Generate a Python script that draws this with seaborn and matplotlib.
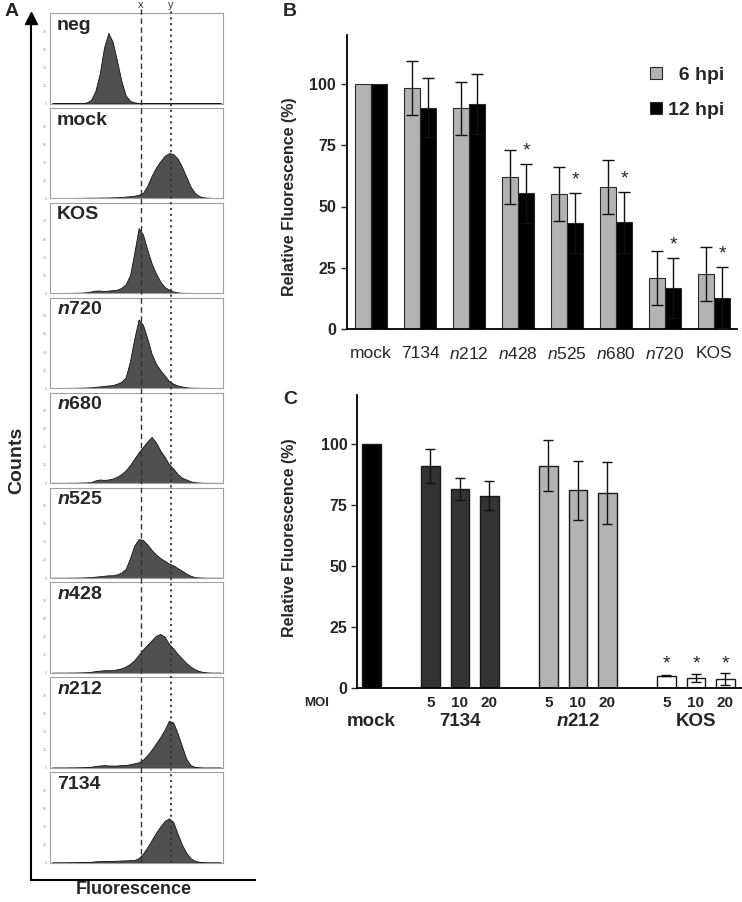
import numpy as np
import pandas as pd
import seaborn as sns
import matplotlib.pyplot as plt

# ---- data -------------------------------------------------------------
# panel A: flow histograms, counts per 0.1-decade bin (log10 fluorescence 0..4)
hist_labels = ["neg", "mock", "KOS", "n720", "n680", "n525", "n428", "n212", "7134"]
hist_neg = [0.3, 0.3, 0.3, 0.3, 0.3, 0.3, 0.4, 0.5, 1.2, 4,
            14, 33, 62, 78, 68, 47, 25, 9, 3, 1.2,
            0.6, 0.5, 0.5, 0.5, 0.5, 0.4, 0.4, 0.4, 0.4, 0.3,
            0.3, 0.3, 0.3, 0.3, 0.3, 0.3, 0.3, 0.3, 0.3, 0.3]
hist_mock = [0.5, 0.5, 0.5, 0.5, 0.5, 0.5, 0.6, 0.6, 0.7, 0.8,
             0.8, 0.9, 1, 1, 1.2, 1.3, 1.6, 2, 2.5, 3,
             4, 6, 14, 25, 34, 41, 47, 50, 49, 44,
             35, 24, 13, 6, 2.5, 1.2, 0.8, 0.5, 0.4, 0.3]
hist_kos = [0.4, 0.4, 0.4, 0.4, 0.5, 0.5, 0.6, 0.8, 1.2, 2,
            3, 3, 2.5, 3, 3.5, 4, 6, 10, 20, 45,
            72, 65, 48, 33, 22, 13, 7, 4, 2, 1,
            0.6, 0.5, 0.4, 0.4, 0.3, 0.3, 0.3, 0.3, 0.3, 0.3]
hist_n720 = [0.3, 0.3, 0.3, 0.3, 0.4, 0.4, 0.5, 0.6, 0.8, 1,
             1.5, 2, 2.5, 3, 3.5, 5, 7, 12, 30, 55,
             76, 70, 55, 38, 27, 20, 14, 8, 5, 3,
             2, 1, 0.6, 0.5, 0.4, 0.3, 0.3, 0.3, 0.3, 0.3]
hist_n680 = [0.3, 0.3, 0.3, 0.3, 0.4, 0.4, 0.5, 0.6, 0.8, 1,
             3, 4, 3.5, 4, 5, 7, 10, 14, 20, 27,
             34, 40, 46, 51, 45, 36, 29, 21, 16, 10,
             6, 4, 2, 1, 0.6, 0.4, 0.3, 0.3, 0.3, 0.3]
hist_n525 = [0.3, 0.3, 0.3, 0.3, 0.4, 0.4, 0.5, 0.6, 0.8, 1,
             1.5, 2, 2.5, 3, 3, 4, 6, 10, 22, 36,
             43, 42, 37, 31, 26, 22, 19, 16, 14, 11,
             8, 5, 2.5, 1, 0.6, 0.4, 0.3, 0.3, 0.3, 0.3]
hist_n428 = [0.3, 0.3, 0.3, 0.3, 0.4, 0.4, 0.5, 0.6, 0.8, 1.2,
             2, 2.5, 3, 3, 3, 4, 5, 7, 10, 14,
             20, 26, 31, 36, 41, 43, 40, 32, 27, 21,
             16, 11, 7, 4, 2, 1, 0.5, 0.3, 0.3, 0.3]
hist_n212 = [0.3, 0.3, 0.3, 0.3, 0.4, 0.4, 0.5, 0.6, 0.8, 1.2,
             2, 2.5, 3, 2.5, 2.5, 2.5, 3, 3, 4, 5,
             6, 9, 14, 20, 27, 34, 42, 52, 50, 38,
             24, 10, 3, 1, 0.5, 0.3, 0.3, 0.3, 0.3, 0.3]
hist_7134 = [0.3, 0.3, 0.3, 0.3, 0.4, 0.4, 0.5, 0.6, 0.8, 1,
             1.5, 1.8, 2, 2, 2, 2.2, 2.4, 2.6, 2.8, 3,
             5, 10, 17, 25, 33, 40, 46, 49, 45, 32,
             20, 11, 5, 2, 1, 0.5, 0.3, 0.3, 0.3, 0.3]
hist_counts = [hist_neg, hist_mock, hist_kos, hist_n720, hist_n680,
               hist_n525, hist_n428, hist_n212, hist_7134]
gate_x = 2.1   # dashed marker (log10)
gate_y = 2.8   # dotted marker (log10)

# panel B
strains_b = ["mock", "7134", "n212", "n428", "n525", "n680", "n720", "KOS"]
hue_labels = ["6 hpi", "12 hpi"]
fluor_6h = [100, 98.5, 90, 62, 55, 57.8, 21, 22.4]
err_6h = [0, 11, 11, 11, 11, 11, 11, 11]
fluor_12h = [100, 90.3, 91.8, 55.4, 43.4, 43.5, 16.6, 12.8]
err_12h = [0, 12, 12.3, 12, 12.2, 12.3, 12.2, 12.4]
sig_12h = [False, False, False, True, True, True, True, True]

# panel C
groups_c = ["mock", "7134", "n212", "KOS"]
c_group = ["mock", "7134", "7134", "7134", "n212", "n212", "n212", "KOS", "KOS", "KOS"]
c_moi = ["", "5", "10", "20", "5", "10", "20", "5", "10", "20"]
c_value = [100, 91, 81.4, 78.7, 91.1, 80.9, 80, 5.1, 4.2, 3.7]
c_err = [0, 7, 4.5, 6, 10.5, 12, 12.7, 0.3, 1.6, 2.6]
c_sig = [False] * 7 + [True] * 3

# ---- style --------------------------------------------------------------
sns.set_style("white")
plt.rcParams["font.family"] = ["Liberation Sans", "DejaVu Sans"]
plt.rcParams["mathtext.fontset"] = "custom"
plt.rcParams["mathtext.rm"] = "Liberation Sans"
plt.rcParams["mathtext.it"] = "Liberation Sans:italic"
plt.rcParams["mathtext.bf"] = "Liberation Sans:bold"
plt.rcParams["mathtext.bfit"] = "Liberation Sans:italic:bold"

W, H = 742, 902
fig = plt.figure(figsize=(W / 100, H / 100), dpi=100)


def px_box(x0, y0, x1, y1):
    return [x0 / W, 1 - y1 / H, (x1 - x0) / W, (y1 - y0) / H]


def fmt(name, bold=False):
    if name.startswith("n") and name[1:].isdigit():
        return (r"$\mathbfit{n}$" if bold else r"$\mathit{n}$") + name[1:]
    return name


# ---- panel A --------------------------------------------------------------
ax_frame = fig.add_axes(px_box(31, 18, 255, 880))
ax_frame.set(xticks=[], yticks=[], xlim=(0, 1), ylim=(0, 1))
ax_frame.patch.set_alpha(0)
for side in ["top", "right"]:
    ax_frame.spines[side].set_visible(False)
for side in ["left", "bottom"]:
    ax_frame.spines[side].set_linewidth(1.5)
    ax_frame.spines[side].set_color("black")
ax_frame.plot(0, 1, marker="^", ms=8, color="black", transform=ax_frame.transAxes,
              clip_on=False)
ax_frame.set_ylabel("Counts", fontsize=14, fontweight="bold")
ax_frame.yaxis.set_label_coords((25 - 31) / 224, (880 - 460) / 862)
ax_frame.set_xlabel("Fluorescence", fontsize=13, fontweight="bold")
ax_frame.xaxis.set_label_coords((134 - 31) / 224, (880 - 881) / 862)

centers = np.arange(40) * 0.1 + 0.05
for i, (name, counts) in enumerate(zip(hist_labels, hist_counts)):
    top = 13 + 94.9 * i
    ax = fig.add_axes(px_box(50, top, 223, top + 90.5))
    df_h = pd.DataFrame({"log_fl": centers, "count": counts})
    sns.histplot(data=df_h, x="log_fl", weights="count", bins=40, binrange=(0, 4),
                 element="poly", color="#505050", edgecolor="#111111", linewidth=0.6,
                 alpha=1, ax=ax)
    ax.set(xlim=(0, 4), ylim=(0, 100), xlabel="", ylabel="")
    ax.set_xticks(range(5), [""] * 5)
    ax.set_yticks([0, 20, 40, 60, 80], ["0", "20", "40", "60", "80"])
    ax.tick_params(length=1.5, width=0.4, color="#999999", labelsize=2.5,
                   labelcolor="#999999", pad=0.5)
    for sp in ax.spines.values():
        sp.set_color("#a0a0a0")
        sp.set_linewidth(0.8)
    ax.text(0.04, 0.96, fmt(name, bold=True), transform=ax.transAxes, va="top",
            ha="left", fontsize=14, fontweight="bold")

ax_lines = fig.add_axes(px_box(50, 9, 223, 863))
ax_lines.set(xlim=(0, 4), ylim=(0, 1))
ax_lines.axis("off")
ax_lines.axvline(gate_x, ls=(0, (4, 2.5)), color="#333333", lw=1)
ax_lines.axvline(gate_y, ls=(0, (1.2, 2)), color="#333333", lw=1.3)
for gx, lab in [(gate_x, "x"), (gate_y, "y")]:
    ax_lines.annotate(lab, xy=(gx, 1), xycoords=("data", "axes fraction"),
                      xytext=(0, 3), textcoords="offset points", ha="center",
                      va="center", fontsize=8, color="#333333")

fig.text(12 / W, 1 - 12 / H, "A", fontsize=14, fontweight="bold", ha="center", va="center")

# ---- panel B --------------------------------------------------------------
axB = fig.add_axes(px_box(347, 35, 737, 329))
df_b = pd.DataFrame({
    "strain": strains_b * 2,
    "time": [hue_labels[0]] * len(strains_b) + [hue_labels[1]] * len(strains_b),
    "value": fluor_6h + fluor_12h,
})
sns.barplot(data=df_b, x="strain", y="value", hue="time", palette=["#b3b3b3", "#000000"],
            width=0.66, edgecolor="#2a2a2a", linewidth=0.8, errorbar=None, ax=axB)
for cont, errs in zip(axB.containers, [err_6h, err_12h]):
    for bar, e in zip(cont, errs):
        if e > 0:
            axB.errorbar(bar.get_x() + bar.get_width() / 2, bar.get_height(), yerr=e,
                         fmt="none", ecolor="#111111", elinewidth=1, capsize=4.5,
                         capthick=1, zorder=3)
for bar, v, e, s in zip(axB.containers[1], fluor_12h, err_12h, sig_12h):
    if s:
        axB.text(bar.get_x() + bar.get_width() / 2, v + e + 3.5, "*", ha="center",
                 va="baseline", fontsize=14)

handles, _ = axB.get_legend_handles_labels()
axB.legend(handles, ["  " + hue_labels[0], hue_labels[1]], frameon=False,
           loc="upper right", bbox_to_anchor=((724 - 347) / 390, (329 - 67) / 294),
           borderaxespad=0, borderpad=0, handlelength=0.6, handleheight=0.6,
           handletextpad=0.3, labelspacing=0.9,
           prop={"weight": "bold", "size": 14})

axB.set_xlim(-0.49, 7.47)
axB.set_ylim(0, 120)
axB.set_xticks(range(len(strains_b)), [fmt(s) for s in strains_b])
axB.set_yticks([0, 25, 50, 75, 100], ["0", "25", "50", "75", "100"],
               fontweight="bold", fontsize=11.5)
axB.tick_params(axis="x", length=0, pad=12, labelsize=12.5)
axB.tick_params(axis="y", direction="out", length=4, width=1, pad=4, left=True)
axB.set_xlabel("")
axB.set_ylabel("Relative Fluorescence (%)", fontsize=11.5, fontweight="bold")
axB.yaxis.set_label_coords((297 - 347) / 390, (329 - 197) / 294)
sns.despine(ax=axB)
for side in ["left", "bottom"]:
    axB.spines[side].set_linewidth(1.3)
    axB.spines[side].set_color("black")
fig.text(290 / W, 1 - 12 / H, "B", fontsize=14, fontweight="bold", ha="center", va="center")

# ---- panel C --------------------------------------------------------------
axC = fig.add_axes(px_box(357, 395, 742, 688))
df_c = pd.DataFrame({"group": c_group, "moi": c_moi, "value": c_value,
                     "err": c_err, "sig": c_sig})
g_idx = df_c["group"].map(groups_c.index)
j_idx = df_c.groupby("group", sort=False).cumcount()
df_c["slot"] = np.where(g_idx == 0, 0, 4 * g_idx - 2 + j_idx)

sns.barplot(data=df_c, x="slot", y="value", hue="group", hue_order=groups_c,
            palette=["#000000", "#333333", "#b3b3b3", "#ffffff"], native_scale=True,
            width=0.64, dodge=False, edgecolor="#1a1a1a", linewidth=1, errorbar=None,
            legend=False, ax=axC)
by_slot = df_c.set_index("slot")
star_y = {g: (d["value"] + d["err"]).max() + 1.8 for g, d in df_c[df_c["sig"]].groupby("group")}
for bar in axC.patches:
    xc = bar.get_x() + bar.get_width() / 2
    row = by_slot.loc[int(round(xc))]
    if row["err"] > 0:
        axC.errorbar(xc, bar.get_height(), yerr=row["err"], fmt="none", ecolor="#111111",
                     elinewidth=1, capsize=3.5, capthick=1, zorder=3)
    if row["sig"]:
        axC.text(xc, star_y[row["group"]], "*", ha="center", va="baseline", fontsize=14)

axC.set_xlim(-0.49, 12.56)
axC.set_ylim(0, 120)
axC.set_xticks(df_c["slot"], df_c["moi"], fontweight="bold", fontsize=11)
axC.set_yticks([0, 25, 50, 75, 100], ["0", "25", "50", "75", "100"],
               fontweight="bold", fontsize=11.5)
axC.tick_params(axis="x", length=0, pad=6)
axC.tick_params(axis="y", direction="out", length=4, width=1, pad=3, left=True)
axC.set_xlabel("")
axC.set_ylabel("Relative Fluorescence (%)", fontsize=11.5, fontweight="bold")
axC.yaxis.set_label_coords((297 - 357) / 385, (688 - 538) / 293)
sns.despine(ax=axC)
for side in ["left", "bottom"]:
    axC.spines[side].set_linewidth(1.3)
    axC.spines[side].set_color("black")

for g, d in df_c.groupby("group", sort=False):
    axC.annotate(fmt(g, bold=True), xy=(d["slot"].mean(), 0),
                 xycoords=("data", "axes fraction"), xytext=(0, -24),
                 textcoords="offset points", ha="center", va="center",
                 fontsize=13.5, fontweight="bold")
axC.annotate("MOI", xy=(0, 0), xycoords="axes fraction", xytext=(-29, -10.5),
             textcoords="offset points", ha="center", va="center",
             fontsize=9.5, fontweight="bold")
fig.text(290 / W, 1 - 400 / H, "C", fontsize=14, fontweight="bold", ha="center", va="center")

fig.savefig("out.png", dpi=100)
